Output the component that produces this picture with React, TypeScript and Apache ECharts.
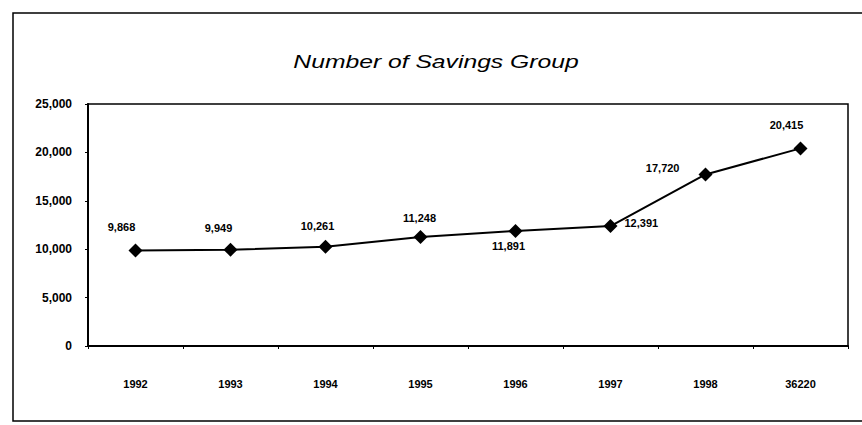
import React, { useEffect, useRef } from "react";
import * as echarts from "echarts";

const categories = ["1992", "1993", "1994", "1995", "1996", "1997", "1998", "36220"];
const savingsGroups = [9868, 9949, 10261, 11248, 11891, 12391, 17720, 20415];
const yTicks = { min: 0, max: 25000, interval: 5000 };
const titleText = "Number of Savings Group";

const fmt = (v: number) => v.toLocaleString("en-US");

// label placement per point (index-based layout tweaks)
const labelLayout: { position: any; offset: [number, number] }[] = [
  { position: "top", offset: [-14, -6] },
  { position: "top", offset: [-12, -4] },
  { position: "top", offset: [-8, -3] },
  { position: "top", offset: [-1, -2] },
  { position: "bottom", offset: [-7, -2] },
  { position: "right", offset: [2, -3] },
  { position: "left", offset: [-14, -6] },
  { position: "top", offset: [-14, -6] },
];

export default function App() {
  const ref = useRef<HTMLDivElement>(null);
  useEffect(() => {
    if (!ref.current) return;
    const chart = echarts.init(ref.current, undefined, { renderer: "svg" });
    const font = "'Liberation Sans', Arial, sans-serif";
    chart.setOption({
      animation: false,
      backgroundColor: "#fff",
      textStyle: { fontFamily: font, color: "#000" },
      graphic: [
        {
          type: "rect",
          shape: { x: 13, y: 13, width: 880, height: 408 },
          style: { fill: "none", stroke: "#000", lineWidth: 1.5 },
          silent: true,
        },
        {
          type: "text",
          x: 436,
          y: 62,
          scaleX: 1.3,
          style: {
            text: titleText,
            font: `italic 19px ${font}`,
            fill: "#000",
            textAlign: "center",
            textVerticalAlign: "middle",
          },
        },
      ],
      grid: {
        left: 88,
        right: 14,
        top: 104,
        bottom: 79,
        show: true,
        borderColor: "#000",
        borderWidth: 1.5,
        backgroundColor: "transparent",
      },
      xAxis: {
        type: "category",
        data: categories,
        boundaryGap: true,
        axisLine: { lineStyle: { color: "#000", width: 2 } },
        axisTick: { show: true, length: 3, lineStyle: { color: "#000" } },
        axisLabel: {
          color: "#000",
          fontSize: 11,
          fontWeight: "bold",
          margin: 32,
          fontFamily: font,
        },
      },
      yAxis: {
        type: "value",
        min: yTicks.min,
        max: yTicks.max,
        interval: yTicks.interval,
        splitLine: { show: false },
        axisLine: { show: true, lineStyle: { color: "#000", width: 2 } },
        axisTick: { show: true, length: 3, lineStyle: { color: "#000" } },
        axisLabel: {
          color: "#000",
          fontSize: 12,
          fontWeight: "bold",
          margin: 16,
          fontFamily: font,
          formatter: (v: number) => fmt(v),
        },
      },
      series: [
        {
          type: "line",
          data: savingsGroups.map((v, i) => ({
            value: v,
            label: {
              position: labelLayout[i].position,
              offset: labelLayout[i].offset,
            },
          })),
          symbol: "diamond",
          symbolSize: 14,
          itemStyle: { color: "#000" },
          lineStyle: { color: "#000", width: 2 },
          label: {
            show: true,
            color: "#000",
            fontSize: 11,
            fontWeight: "bold",
            fontFamily: font,
            formatter: (p: any) => fmt(p.value),
          },
        },
      ],
    });
    return () => chart.dispose();
  }, []);
  return (
    <div
      ref={ref}
      style={{ position: "fixed", left: 0, top: 0, width: 862, height: 425 }}
    />
  );
}
